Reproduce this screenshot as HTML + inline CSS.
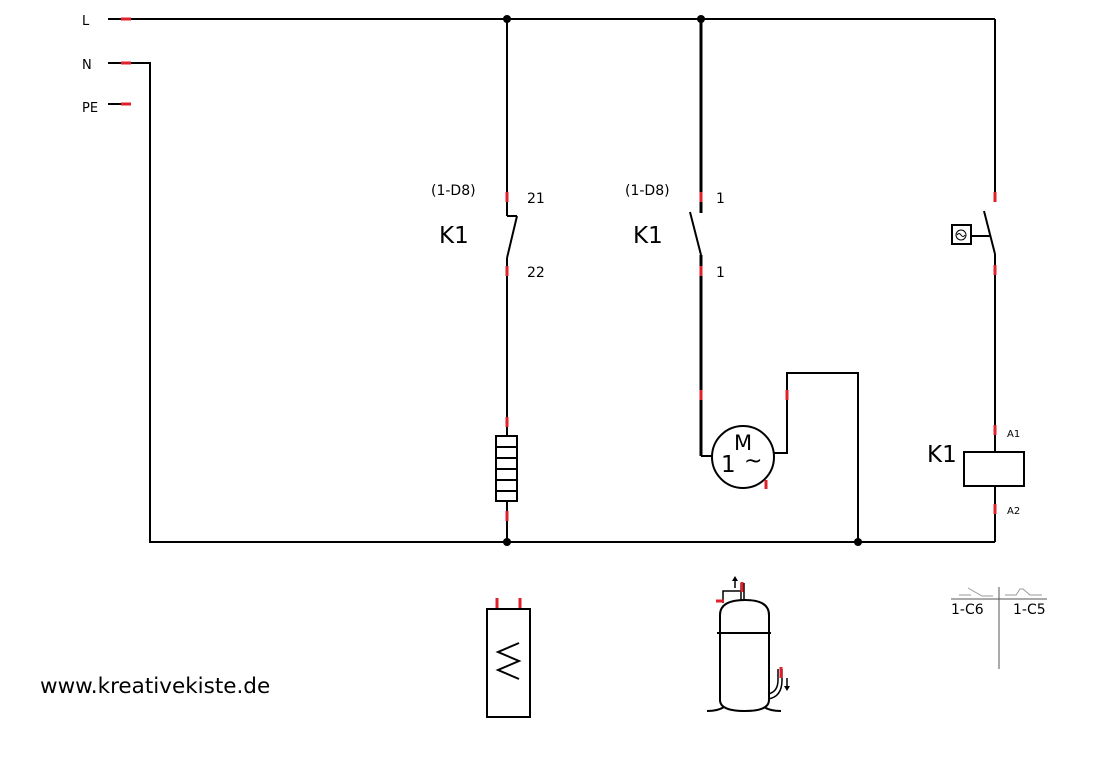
<!DOCTYPE html>
<html><head><meta charset="utf-8"><style>
html,body{margin:0;padding:0;background:#fff;}
svg{display:block;}
text{font-family:"DejaVu Sans","Liberation Sans",sans-serif;fill:#000;}
</style></head><body>
<svg width="1113" height="769" viewBox="0 0 1113 769" xmlns="http://www.w3.org/2000/svg">
<g stroke="#000" stroke-width="2" fill="none">
<line x1="108" y1="19" x2="995" y2="19"/>
<line x1="995" y1="19" x2="995" y2="193"/>
<polyline points="108,63 150,63 150,542 995,542"/>
<line x1="108" y1="104" x2="130" y2="104"/>
<line x1="507" y1="19" x2="507" y2="216"/>
<line x1="507" y1="216" x2="517" y2="216"/>
<line x1="517" y1="216" x2="507" y2="258"/>
<line x1="507" y1="258" x2="507" y2="436"/>
<rect x="496" y="436" width="21" height="65"/>
<line x1="496" y1="447" x2="517" y2="447"/>
<line x1="496" y1="458" x2="517" y2="458"/>
<line x1="496" y1="469" x2="517" y2="469"/>
<line x1="496" y1="480" x2="517" y2="480"/>
<line x1="496" y1="491" x2="517" y2="491"/>
<line x1="507" y1="501" x2="507" y2="542"/>
<line x1="701" y1="19" x2="701" y2="213" stroke-width="3"/>
<line x1="690" y1="212" x2="701" y2="255"/>
<line x1="701" y1="255" x2="701" y2="456" stroke-width="3"/>
<line x1="701" y1="456" x2="712" y2="456"/>
<circle cx="743" cy="457" r="31"/>
<polyline points="774,453 787,453 787,373 858,373 858,542"/>
<line x1="984" y1="211" x2="995" y2="254"/>
<line x1="995" y1="254" x2="995" y2="452"/>
<line x1="995" y1="486" x2="995" y2="542"/>
<rect x="964" y="452" width="60" height="34"/>
<line x1="972" y1="236" x2="990" y2="236"/>
<rect x="952" y="225" width="19" height="19"/>
<rect x="487" y="609" width="43" height="108"/>
<polyline points="519,643 498,652 519,661 498,670 519,679"/>
<path d="M720,700 L720,615 Q720,600 745,600 Q769,600 769,615 L769,700 Q769,711 745,711 Q720,711 720,700 Z"/>
<line x1="717" y1="633" x2="771" y2="633"/>
<path d="M707,711 Q718,711 724,707 M781,711 Q770,711 764,707"/>
<polyline points="723,603 723,591 741,591" stroke-width="1.5"/>
<line x1="741" y1="583" x2="741" y2="600" stroke-width="1.5"/>
<line x1="744" y1="583" x2="744" y2="600" stroke-width="1.5"/>
<path d="M768,699 Q782,697 782,680 L782,669 M768,694 Q778,692 778,680 L778,669" stroke-width="1.5"/>
<line x1="735" y1="588" x2="735" y2="580" stroke-width="1.5"/>
<line x1="787" y1="678" x2="787" y2="688" stroke-width="1.5"/>
</g>
<path d="M732,581 L735,576 L738,581Z M784,686 L787,691 L790,686Z" fill="#000"/>
<circle cx="961" cy="235" r="5" fill="none" stroke="#000" stroke-width="1"/>
<path d="M957,235 q2,-3 4,0 t4,0" fill="none" stroke="#000" stroke-width="1"/>
<g stroke="#e0202a" stroke-width="3">
<line x1="121" y1="19" x2="131" y2="19"/>
<line x1="121" y1="63" x2="131" y2="63"/>
<line x1="121" y1="104" x2="131" y2="104"/>
<line x1="507" y1="192" x2="507" y2="202"/>
<line x1="507" y1="266" x2="507" y2="276"/>
<line x1="507" y1="417" x2="507" y2="427"/>
<line x1="507" y1="511" x2="507" y2="521"/>
<line x1="701" y1="192" x2="701" y2="202"/>
<line x1="701" y1="266" x2="701" y2="276"/>
<line x1="701" y1="390" x2="701" y2="400"/>
<line x1="787" y1="390" x2="787" y2="400"/>
<line x1="766" y1="480" x2="766" y2="489"/>
<line x1="995" y1="192" x2="995" y2="202"/>
<line x1="995" y1="265" x2="995" y2="275"/>
<line x1="995" y1="425" x2="995" y2="435"/>
<line x1="995" y1="504" x2="995" y2="514"/>
<line x1="497" y1="598" x2="497" y2="608"/>
<line x1="520" y1="598" x2="520" y2="608"/>
<line x1="742" y1="582" x2="742" y2="592"/>
<line x1="781" y1="667" x2="781" y2="678"/>
<line x1="716" y1="601" x2="724" y2="601"/>
</g>
<g fill="#000">
<circle cx="507" cy="19" r="4"/>
<circle cx="701" cy="19" r="4"/>
<circle cx="507" cy="542" r="4"/>
<circle cx="858" cy="542" r="4"/>
</g>
<g stroke="#555" stroke-width="1" fill="none">
<line x1="951" y1="599" x2="1047" y2="599"/>
<line x1="999" y1="587" x2="999" y2="669"/>
<path d="M959,595 L971,595 M968,588 L982,596 L993,596" stroke="#999"/>
<path d="M1005,595 L1016,595 L1020,589 L1023,589 L1030,595 L1042,595" stroke="#999"/>
</g>
<text x="951" y="614" font-size="14">1-C6</text>
<text x="1013" y="614" font-size="14">1-C5</text>
<text x="82" y="25" font-size="13">L</text>
<text x="82" y="69" font-size="13">N</text>
<text x="82" y="112" font-size="13">PE</text>
<text x="431" y="195" font-size="14">(1-D8)</text>
<text x="439" y="243" font-size="23">K1</text>
<text x="527" y="203" font-size="14">21</text>
<text x="527" y="277" font-size="14">22</text>
<text x="625" y="195" font-size="14">(1-D8)</text>
<text x="633" y="243" font-size="23">K1</text>
<text x="716" y="203" font-size="14">1</text>
<text x="716" y="277" font-size="14">1</text>
<text x="734" y="450" font-size="21">M</text>
<text x="721" y="472" font-size="23">1</text>
<text x="744" y="468" font-size="22">~</text>
<text x="927" y="462" font-size="23">K1</text>
<text x="1007" y="437" font-size="10">A1</text>
<text x="1007" y="514" font-size="10">A2</text>
<text x="40" y="693" font-size="21.5">www.kreativekiste.de</text>
</svg>
</body></html>
